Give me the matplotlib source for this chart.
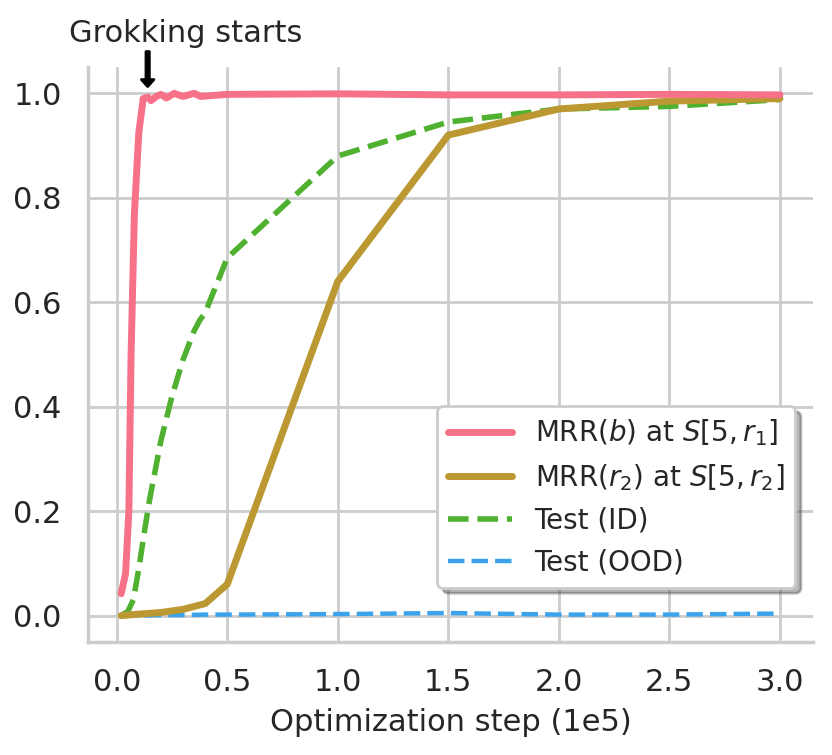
import matplotlib
matplotlib.use("Agg")
import matplotlib.pyplot as plt
import seaborn as sns

sns.set_theme(style="whitegrid", context="notebook")
plt.rcParams['font.family'] = ['DejaVu Sans']

pal = sns.color_palette("husl", 6)
c_pink, c_gold, c_green, c_blue = pal[0], pal[1], pal[2], pal[4]

# Data
steps_b = [0.02, 0.04, 0.055, 0.065, 0.08, 0.10, 0.12, 0.14, 0.155, 0.18, 0.20, 0.225,
           0.26, 0.30, 0.35, 0.38, 0.50, 1.0, 1.5, 2.0, 2.5, 3.0]
mrr_b = [0.042, 0.08, 0.20, 0.50, 0.77, 0.925, 0.99, 0.993, 0.986, 0.994, 0.998, 0.991,
         1.0, 0.994, 1.0, 0.994, 0.998, 0.999, 0.997, 0.997, 0.998, 0.997]

steps_id = [0.02, 0.05, 0.075, 0.10, 0.125, 0.15, 0.20, 0.25, 0.30, 0.35, 0.375, 0.40,
            0.50, 1.0, 1.5, 2.0, 2.5, 3.0]
test_id = [0.0, 0.008, 0.03, 0.09, 0.16, 0.225, 0.335, 0.42, 0.49, 0.545, 0.565, 0.58,
           0.685, 0.88, 0.945, 0.97, 0.975, 0.988]

steps_r2 = [0.02, 0.1, 0.2, 0.3, 0.4, 0.5, 1.0, 1.5, 2.0, 2.5, 3.0]
mrr_r2 = [0.0, 0.003, 0.006, 0.012, 0.023, 0.06, 0.64, 0.92, 0.97, 0.985, 0.99]
test_ood = [0.0, 0.0, 0.001, 0.001, 0.002, 0.002, 0.003, 0.005, 0.002, 0.002, 0.004]

fig = plt.figure(figsize=(4.16, 3.775), dpi=200)
ax = fig.add_axes([0.106, 0.150, 0.871, 0.761])

ax.plot(steps_b, mrr_b, color=c_pink, lw=2.5, zorder=5, label=r"MRR($b$) at $S[5, r_1]$")
ax.plot(steps_r2, mrr_r2, color=c_gold, lw=2.5, zorder=4, label=r"MRR($r_2$) at $S[5, r_2]$")
ax.plot(steps_id, test_id, color=c_green, lw=2, ls="--", zorder=3, label="Test (ID)")
ax.plot(steps_r2, test_ood, color=c_blue, lw=1.6, ls="--", zorder=2, label="Test (OOD)")

ax.set_xticks([0.0, 0.5, 1.0, 1.5, 2.0, 2.5, 3.0])
ax.set_yticks([0.0, 0.2, 0.4, 0.6, 0.8, 1.0])
ax.tick_params(labelsize=11)
ax.set_xlabel("Optimization step (1e5)", fontsize=11)
sns.despine(ax=ax)

ax.annotate("", xy=(0.14, 1.013), xytext=(0.14, 1.08),
            arrowprops=dict(facecolor="black", edgecolor="black", width=1.2,
                            headwidth=4.5, headlength=2.5), annotation_clip=False)
ax.text(0.31, 1.115, "Grokking starts", fontsize=11, ha="center", va="center",
        clip_on=False)

leg = ax.legend(loc="lower right", bbox_to_anchor=(0.995, 0.07), fontsize=10,
                handlelength=2.3, shadow={'alpha': 0.4}, framealpha=1)

fig.savefig("out.png", dpi=200)
